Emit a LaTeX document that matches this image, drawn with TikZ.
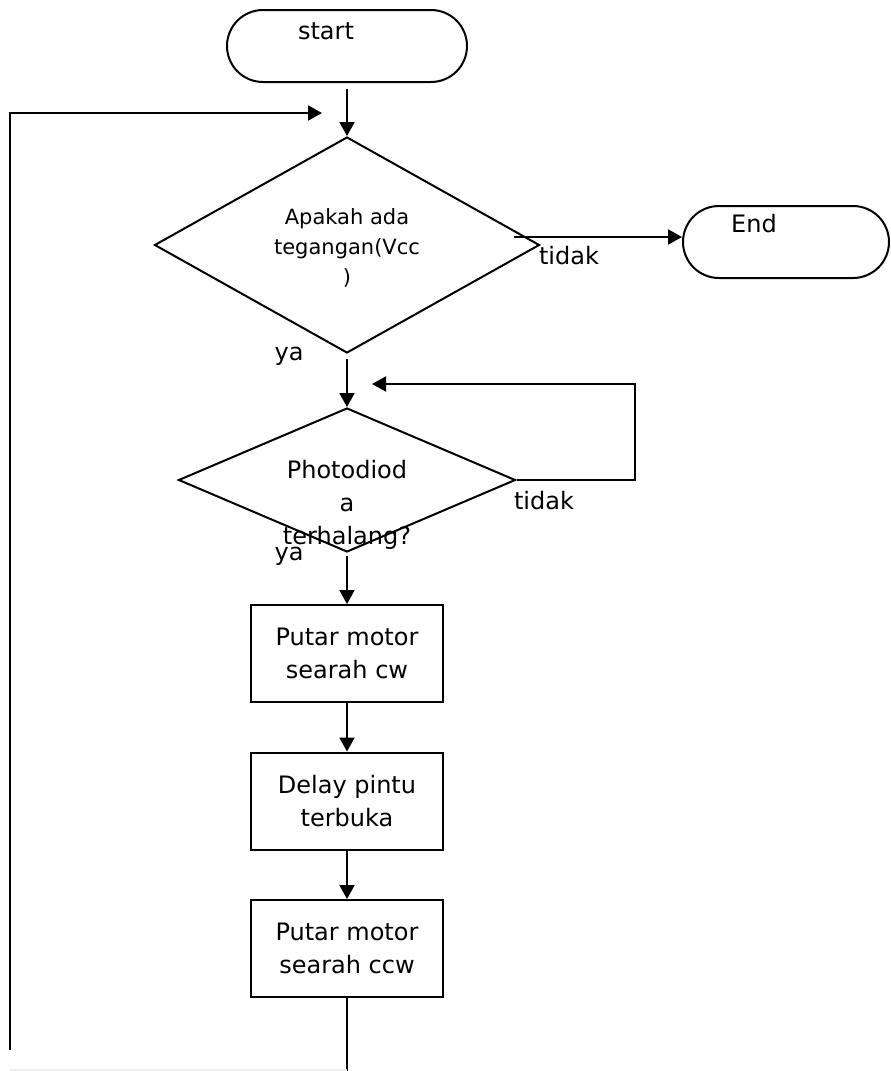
\documentclass[tikz,border=0pt]{standalone}
\usepackage{fontspec}
\setmainfont{DejaVu Sans}
\usetikzlibrary{arrows.meta,shapes.geometric}

\begin{document}
\begin{tikzpicture}[x=0.5pt, y=-0.5pt, line width=1pt,
  terminal/.style={draw, rectangle, rounded corners=18pt, minimum height=36pt, inner sep=0pt},
  decision/.style={draw, diamond, inner sep=0pt},
  process/.style={draw, rectangle, minimum width=96pt, minimum height=48.5pt, align=center, font=\fontsize{12}{16.5}\selectfont},
  lbl/.style={font=\fontsize{12}{14}\selectfont, inner sep=0pt},
  flow/.style={-{Triangle[length=7pt,width=7.5pt]}}]
\useasboundingbox (0,0) rectangle (890,1071);

% terminals
\node[terminal, minimum width=120pt] (start) at (347,46) {};
\node[lbl] (starttxt) at (326,31) {start};
\node[terminal, minimum width=103pt] (end) at (786,242) {};
\node[lbl] (endtxt) at (754,224) {End};

% decisions
\node[decision, minimum width=192.5pt, minimum height=108pt] (cek) at (347,245) {};
\node[font=\fontsize{10.5}{15}\selectfont, align=center, inner sep=0pt] (cektxt) at (347,248) {Apakah ada\\tegangan(Vcc\\)};
\node[decision, minimum width=168.5pt, minimum height=72pt] (foto) at (347,480) {};
\node[font=\fontsize{12}{16.5}\selectfont, align=center, inner sep=0pt] (fototxt) at (347,505) {Photodiod\\a\\terhalang?};

% process boxes
\node[process] (cw) at (347,653.5) {Putar motor\\searah cw};
\node[process] (delay) at (347,801) {Delay pintu\\terbuka};
\node[process] (ccw) at (347,948.5) {Putar motor\\searah ccw};

% labels
\node[lbl] (tidak1) at (569,256) {tidak};
\node[lbl] (tidak2) at (544,501) {tidak};
\node[lbl] (ya1) at (289,356) {ya};
\node[lbl] (ya2) at (289,556) {ya};

% loose ends
\coordinate (left1) at (10,1050);
\coordinate (left2) at (10,113);
\coordinate (back1) at (322,113);
\coordinate (loop2) at (635,384);
\coordinate (back2) at (372,384);
\coordinate (bottom) at (347,1071);

\draw[flow] ([yshift=-3pt]start.south) -- (cek.north);
\draw[flow] ([xshift=-13.5pt,yshift=4pt]cek.east) -- ([yshift=2.5pt]end.west);
\draw[flow] ([yshift=-2.5pt]cek.south) -- (foto.north);
\draw[flow] (foto.east) -| (loop2) -- (back2);
\draw[flow] ([yshift=-1.5pt]foto.south) -- (cw.north);
\foreach \a/\b in {cw/delay, delay/ccw}
  \draw[flow] (\a.south) -- (\b.north);
\draw (ccw.south) -- (bottom);
\draw[flow] (left1) -- (left2) -- (back1);
\draw[gray!15] (10,1070) -- (347,1070);

\end{tikzpicture}
\end{document}
